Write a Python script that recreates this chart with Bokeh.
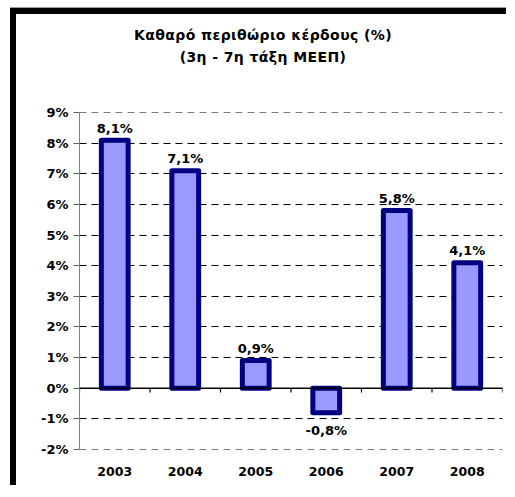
from bokeh.plotting import figure
from bokeh.models import ColumnDataSource, Span, FixedTicker, Div
from bokeh.layouts import column
from bokeh.embed import file_html
from bokeh.resources import INLINE
from bokeh.core.properties import value

# ---- data ----
years = ["2003", "2004", "2005", "2006", "2007", "2008"]
net_margin = [8.1, 7.1, 0.9, -0.8, 5.8, 4.1]
value_labels = ["8,1%", "7,1%", "0,9%", "-0,8%", "5,8%", "4,1%"]
y_ticks = [-2, -1, 0, 1, 2, 3, 4, 5, 6, 7, 8, 9]
y_tick_labels = ["-2%", "-1%", "0%", "1%", "2%", "3%", "4%", "5%", "6%", "7%", "8%", "9%"]
title_lines = ["Καθαρό περιθώριο κέρδους (%)", "(3η - 7η τάξη ΜΕΕΠ)"]

FONT = "DejaVu Sans"
EPS = 0.004
TITLE_H = 80

p = figure(
    x_range=years, y_range=(y_ticks[0] - EPS, y_ticks[-1] + EPS),
    frame_width=423, frame_height=337,
    min_border_left=63, min_border_top=98 - TITLE_H, min_border_right=4, min_border_bottom=36,
    output_backend="svg", toolbar_location=None, margin=0,
)
p.outline_line_color = None
p.background_fill_color = "white"
p.border_fill_color = "white"

# y axis
ticker = FixedTicker(ticks=y_ticks)
p.yaxis.ticker = ticker
p.yaxis.major_label_overrides = dict(zip(y_ticks, y_tick_labels))
p.yaxis.axis_line_color = "#808080"
p.yaxis.axis_line_width = 1
p.yaxis.major_tick_line_color = "#606060"
p.yaxis.major_tick_out = 6
p.yaxis.major_tick_in = 0
p.yaxis.minor_tick_line_color = None
p.yaxis.major_label_text_font = FONT
p.yaxis.major_label_text_font_style = "bold"
p.yaxis.major_label_text_font_size = "13px"
p.yaxis.major_label_text_color = "black"
p.yaxis.major_label_standoff = 5

# x axis (labels only, at bottom)
p.xaxis.axis_line_color = None
p.xaxis.major_tick_line_color = None
p.xaxis.minor_tick_line_color = None
p.xaxis.major_label_text_font = FONT
p.xaxis.major_label_text_font_style = "bold"
p.xaxis.major_label_text_font_size = "12.5px"
p.xaxis.major_label_text_color = "black"
p.xaxis.major_label_standoff = 11

# grid
p.xgrid.grid_line_color = None
p.ygrid.ticker = ticker
p.ygrid.grid_line_color = "black"
p.ygrid.grid_line_width = 1
p.ygrid.grid_line_dash = "7 5"

# zero line with category-boundary ticks
p.add_layout(Span(location=0, dimension="width", line_color="black", line_width=1.5))
bounds = [(years[0], -0.5)] + [(y, 0.5) for y in years]
p.segment(x0=bounds, x1=bounds, y0=[0] * len(bounds), y1=[-0.14] * len(bounds),
          line_color="black", line_width=1.2)

# bars
src = ColumnDataSource(dict(
    year=years, val=net_margin, label=value_labels,
    base=["alphabetic" if v >= 0 else "top" for v in net_margin],
    yoff=[-12 if v >= 0 else 10 for v in net_margin],
))
p.vbar(x="year", top="val", bottom=0, width=0.38, source=src,
       fill_color="#9999FF", line_color="#000080", line_width=5, line_join="round")

p.text(x="year", y="val", text="label", source=src,
       text_font=value(FONT), text_font_style="bold", text_font_size="13px",
       text_color="black", text_align="center", text_baseline="base", y_offset="yoff")

# title block above the plot
title_html = (
    "<div style=\"margin-left:8px;width:478px;text-align:center;"
    "font-family:'DejaVu Sans';font-weight:bold;font-size:14px;letter-spacing:0.4px;"
    "line-height:22px;padding-top:10px;color:black;\">"
    + "<br>".join(title_lines) + "</div>"
)
title_div = Div(text=title_html, width=490, height=TITLE_H, margin=0,
                styles={"background-color": "white"})

layout = column(
    title_div, p, spacing=0, margin=0,
    styles={"margin-left": "10px", "margin-top": "8px",
            "border-left": "6px solid black", "border-top": "6px solid black",
            "box-shadow": "0 -1px 0 #a0a0a0", "background-color": "white"},
)

open("out.html", "w").write(file_html(layout, INLINE))
